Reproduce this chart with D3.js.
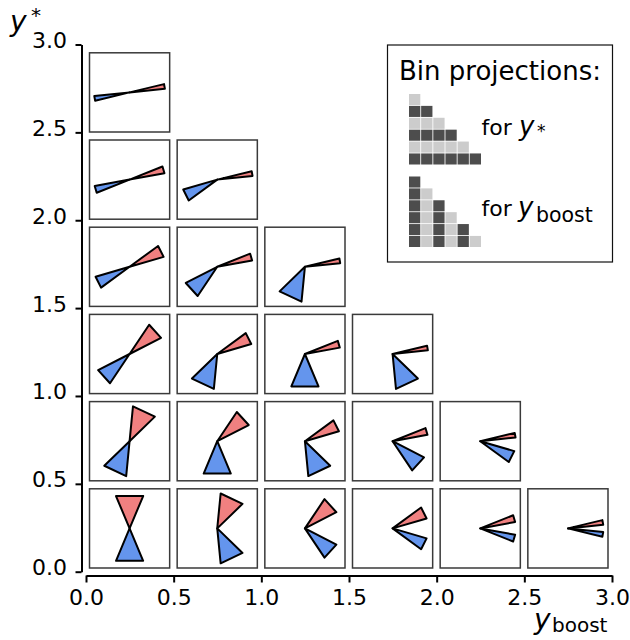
<!DOCTYPE html>
<html>
<head>
<meta charset="utf-8">
<script src="https://cdn.jsdelivr.net/npm/d3@7"></script>
<style>
  body { margin: 0; background: #fff; }
  svg { display: block; font-family: "DejaVu Sans", sans-serif; }
</style>
</head>
<body>
<div id="chart"></div>
<script>
// one entry per panel: lower edge of the yboost bin and of the y* bin
var yboostLow = [0, 0.5, 1, 1.5, 2, 2.5, 0, 0.5, 1, 1.5, 2, 0, 0.5, 1, 1.5, 0, 0.5, 1, 0, 0.5, 0];
var ystarLow  = [0, 0, 0, 0, 0, 0, 0.5, 0.5, 0.5, 0.5, 0.5, 1, 1, 1, 1, 1.5, 1.5, 1.5, 2, 2, 2.5];

// edge directions of the two wedges (degrees, counter-clockwise from +yboost)
var redFrom  = [67.5, 44.5, 27.5, 16.5, 10.5, 6, 44.5, 27.5, 16.5, 10.5, 6, 27.5, 16.5, 10.5, 6, 16.5, 10.5, 6, 10.5, 6, 6];
var redTo    = [112.5, 84.5, 56.5, 36.5, 22, 13.7, 84.5, 56.5, 36.5, 22, 13.7, 56.5, 36.5, 22, 13.7, 36.5, 22, 13.7, 22, 13.7, 13.7];
var blueFrom = [-112.5, -84.5, -56.5, -36.5, -22, -13.7, -135.5, -112.5, -84.5, -56.5, -36.5, -152.5, -135.5, -112.5, -84.5, -163.5, -152.5, -135.5, -169.5, -163.5, -174];
var blueTo   = [-67.5, -44.5, -27.5, -16.5, -10.5, -6, -95.5, -67.5, -44.5, -27.5, -16.5, -123.5, -95.5, -67.5, -44.5, -143.5, -123.5, -95.5, -158, -143.5, -166.3];

var tickValues = [0, 0.5, 1, 1.5, 2, 2.5, 3];
var tickLabels = ["0.0", "0.5", "1.0", "1.5", "2.0", "2.5", "3.0"];

// legend icons: squares per row (y*) and squares per column (yboost)
var starIconRows = [1, 2, 3, 4, 5, 6];
var boostIconCols = [6, 5, 4, 3, 2, 1];

var w = 630, h = 640;

var svg = d3.select("#chart").append("svg")
      .attr("width", w)
      .attr("height", h);

var x = d3.scaleLinear().domain([0, 3]).range([86, 612]),
    y = d3.scaleLinear().domain([0, 3]).range([571.7, 44.5]),
    // the insets sit on a slightly tighter vertical grid than the ticks
    yPanel = d3.scaleLinear().domain([0, 3]).range([572, 48.8]);

var panels = yboostLow.map((b, i) => ({
  b: b,
  s: ystarLow[i],
  red: [redFrom[i], redTo[i]],
  blue: [blueFrom[i], blueTo[i]]
}));

var pw = x(0.5) - x(0) - 7.5,
    ph = yPanel(0) - yPanel(0.5) - 8,
    px = d3.scaleLinear().domain([-1, 1]).range([0, pw]),
    py = d3.scaleLinear().domain([-1, 1]).range([ph, 0]),
    reach = 0.885;

function wedge(angles) {
  var pts = [[px(0), py(0)]];
  angles.forEach((a) => {
    var r = a * Math.PI / 180;
    pts.push([px(reach * Math.cos(r)), py(reach * Math.sin(r))]);
  });
  return d3.line()(pts) + "Z";
}

var cell = svg.append("g")
      .attr("class", "panels")
      .selectAll("g")
      .data(panels)
      .enter().append("g")
      .attr("transform", (d) => "translate(" + (x(d.b) + 3.5) + "," + (yPanel(d.s + 0.5) + 4) + ")");

cell.append("rect")
  .attr("width", pw)
  .attr("height", ph)
  .attr("fill", "#fff")
  .attr("stroke", "#3a3a3a")
  .attr("stroke-width", 1.5);

cell.append("path")
  .attr("d", (d) => wedge(d.red))
  .attr("fill", "#f08080")
  .attr("stroke", "#000")
  .attr("stroke-width", 2)
  .attr("stroke-linejoin", "round");

cell.append("path")
  .attr("d", (d) => wedge(d.blue))
  .attr("fill", "#6495ed")
  .attr("stroke", "#000")
  .attr("stroke-width", 2)
  .attr("stroke-linejoin", "round");

// axes
var yAxis = svg.append("g")
      .attr("transform", "translate(81.5,0)")
      .call(d3.axisLeft(y).tickValues(tickValues).tickFormat((d, i) => tickLabels[i]).tickSize(6).tickSizeOuter(0));

var xAxis = svg.append("g")
      .attr("transform", "translate(0,575.5)")
      .call(d3.axisBottom(x).tickValues(tickValues).tickFormat((d, i) => tickLabels[i]).tickSize(7).tickSizeOuter(0));

[xAxis, yAxis].forEach((g) => {
  g.attr("font-family", "DejaVu Sans").attr("font-size", 22);
  g.select(".domain").attr("stroke", "#000").attr("stroke-width", 2);
  g.selectAll(".tick line").attr("stroke", "#000").attr("stroke-width", 2);
  g.selectAll(".tick text").attr("fill", "#000");
});

yAxis.selectAll(".tick text").attr("x", -14.5).attr("dy", 3);
xAxis.selectAll(".tick text").attr("y", 29.5).attr("dy", 0);

// axis titles
svg.append("text").attr("x", 10).attr("y", 30.5)
  .attr("font-style", "italic").attr("font-size", 28).text("y");
svg.append("text").attr("x", 31).attr("y", 22).attr("font-size", 20).text("*");

svg.append("text").attr("x", 534).attr("y", 629)
  .attr("font-style", "italic").attr("font-size", 28).text("y");
svg.append("text").attr("x", 552).attr("y", 632).attr("font-size", 20).text("boost");

// legend
var legend = svg.append("g").attr("class", "legend");

legend.append("rect")
  .attr("x", 387.5)
  .attr("y", 45)
  .attr("width", 225)
  .attr("height", 217)
  .attr("fill", "#fff")
  .attr("stroke", "#111")
  .attr("stroke-width", 1.2);

legend.append("text")
  .attr("x", 399)
  .attr("y", 80)
  .attr("font-size", 26)
  .text("Bin projections:");

var dark = "#4d4d4d", light = "#cccccc";

var col = d3.scaleBand().domain(d3.range(6)).range([409, 481]).paddingInner(0.07),
    rowA = d3.scaleBand().domain(d3.range(6)).range([94, 164.5]).paddingInner(0.07),
    rowB = d3.scaleBand().domain(d3.range(6)).range([176.5, 247]).paddingInner(0.07);

var starCells = [];
starIconRows.forEach((n, r) => {
  d3.range(n).forEach((c) => starCells.push({ r: r, c: c, dark: r % 2 == 1 }));
});

var boostCells = [];
boostIconCols.forEach((n, c) => {
  d3.range(6 - n, 6).forEach((r) => boostCells.push({ r: r, c: c, dark: c % 2 == 0 }));
});

legend.append("g").selectAll("rect")
  .data(starCells)
  .enter().append("rect")
  .attr("x", (d) => col(d.c))
  .attr("y", (d) => rowA(d.r))
  .attr("width", col.bandwidth())
  .attr("height", rowA.bandwidth())
  .attr("fill", (d) => d.dark ? dark : light);

legend.append("g").selectAll("rect")
  .data(boostCells)
  .enter().append("rect")
  .attr("x", (d) => col(d.c))
  .attr("y", (d) => rowB(d.r))
  .attr("width", col.bandwidth())
  .attr("height", rowB.bandwidth())
  .attr("fill", (d) => d.dark ? dark : light);

// "for y*"
legend.append("text").attr("x", 481.5).attr("y", 135).attr("font-size", 22).text("for");
legend.append("text").attr("x", 519).attr("y", 135)
  .attr("font-style", "italic").attr("font-size", 26).text("y");
legend.append("text").attr("x", 537).attr("y", 137).attr("font-size", 17).text("*");

// "for yboost"
legend.append("text").attr("x", 481.5).attr("y", 216).attr("font-size", 22).text("for");
legend.append("text").attr("x", 518).attr("y", 216)
  .attr("font-style", "italic").attr("font-size", 26).text("y");
legend.append("text").attr("x", 536).attr("y", 221.5).attr("font-size", 20.5).text("boost");
</script>
</body>
</html>
